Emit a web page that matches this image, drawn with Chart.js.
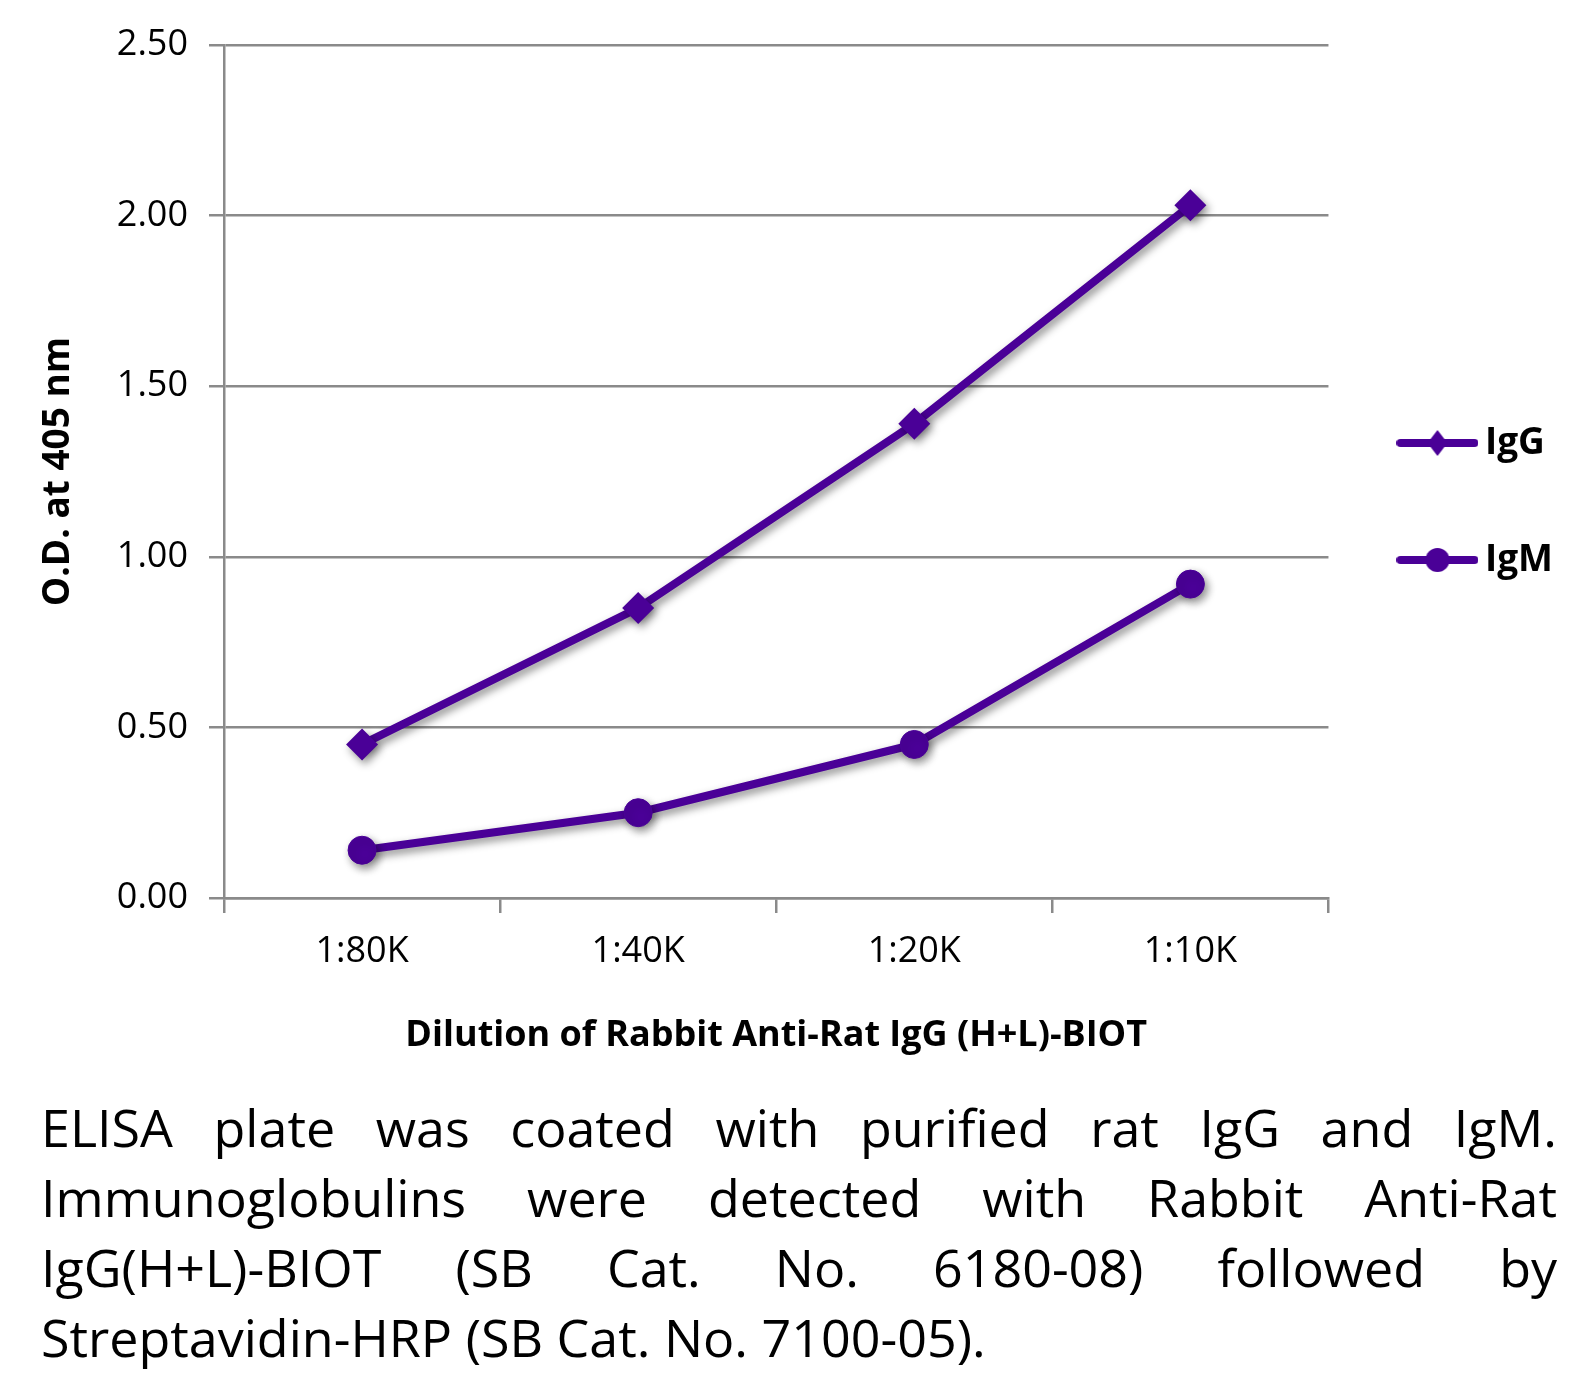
<!DOCTYPE html>
<html>
<head>
<meta charset="utf-8">
<script src="https://cdn.jsdelivr.net/npm/chart.js@4.4.1/dist/chart.umd.min.js"></script>
<style>
  html, body { margin: 0; padding: 0; background: #fff; }
  #wrap { position: relative; width: 1590px; height: 1373px; }
  #chart-box { position: absolute; left: 0; top: 0; width: 1590px; height: 1075px; }
  #caption {
    position: absolute; left: 41px; top: 1092px; width: 1516px;
    font-family: 'Open Sans', sans-serif; font-size: 52px; line-height: 70px; color: #000;
  }
  #caption div { text-align: justify; text-align-last: justify; }
  #caption div.last { text-align-last: left; }
</style>
</head>
<body>
<div id="wrap">
  <div id="chart-box"><canvas id="chart"></canvas></div>
  <div id="caption">
    <div>ELISA plate was coated with purified rat IgG and IgM.</div>
    <div>Immunoglobulins were detected with Rabbit Anti-Rat</div>
    <div>IgG(H+L)-BIOT (SB Cat. No. 6180-08) followed by</div>
    <div class="last">Streptavidin-HRP (SB Cat. No. 7100-05).</div>
  </div>
</div>
<script>
const dilutions = ['1:80K', '1:40K', '1:20K', '1:10K']
const igG = [0.45, 0.85, 1.39, 2.03]
const igM = [0.14, 0.25, 0.45, 0.92]
const yMin = 0
const yMax = 2.5
const yStep = 0.5

const purple = '#4a0097'
const gridGray = '#8a8a8a'
const font = "'Open Sans', sans-serif"

// little line+marker pictures for the legend
function legendMarker(kind) {
  const c = document.createElement('canvas')
  c.width = 82; c.height = 30
  const g = c.getContext('2d')
  g.strokeStyle = purple; g.fillStyle = purple
  g.lineWidth = 8; g.lineCap = 'round'
  g.beginPath(); g.moveTo(4, 15); g.lineTo(78, 15); g.stroke()
  g.beginPath()
  if (kind === 'diamond') {
    g.moveTo(41, 2); g.lineTo(51, 15); g.lineTo(41, 28); g.lineTo(31, 15); g.closePath()
  } else {
    g.arc(41, 15, 12, 0, Math.PI * 2)
  }
  g.fill()
  return c
}
const markers = [legendMarker('diamond'), legendMarker('circle')]

// soft drop shadow under lines and markers
const shadowPlugin = {
  id: 'shadow',
  beforeDatasetsDraw(chart) {
    const ctx = chart.ctx
    ctx.save()
    ctx.shadowColor = 'rgba(0,0,0,0.45)'
    ctx.shadowBlur = 8
    ctx.shadowOffsetX = 3
    ctx.shadowOffsetY = 4
  },
  afterDatasetsDraw(chart) {
    chart.ctx.restore()
  }
}

new Chart(document.getElementById('chart'), {
  type: 'line',
  data: {
    labels: dilutions,
    datasets: [
      {
        label: 'IgG', data: igG,
        borderColor: purple, backgroundColor: purple, borderWidth: 8,
        pointStyle: 'rectRot', pointRadius: 16, pointBorderWidth: 0,
        fill: false, tension: 0
      },
      {
        label: 'IgM', data: igM,
        borderColor: purple, backgroundColor: purple, borderWidth: 8,
        pointStyle: 'circle', pointRadius: 14, pointBorderWidth: 1,
        fill: false, tension: 0
      }
    ]
  },
  options: {
    responsive: true,
    maintainAspectRatio: false,
    animation: false,
    devicePixelRatio: 1,
    layout: { padding: { top: 45, right: 27, bottom: 0, left: 0 } },
    plugins: {
      tooltip: { enabled: false },
      legend: {
        position: 'right',
        fullSize: false,
        title: { display: true, text: ' ', font: { size: 10 }, padding: { top: 24, bottom: 24 } },
        labels: {
          usePointStyle: true,
          pointStyleWidth: 58,
          padding: 80,
          color: '#000',
          font: { family: font, size: 37, weight: 'bold' },
          generateLabels: (chart) => chart.data.datasets.map((ds, i) => ({
            text: ds.label, pointStyle: markers[i], datasetIndex: i,
            fontColor: '#000', lineWidth: 0, hidden: false
          }))
        }
      }
    },
    scales: {
      x: {
        offset: true,
        afterFit: (s) => { s.height = 177 },
        grid: { offset: true, drawOnChartArea: false, drawTicks: true, tickLength: 15, color: gridGray, lineWidth: 2.5 },
        border: { color: gridGray, width: 2.5 },
        ticks: { color: '#000', padding: 17, font: { family: font, size: 36 } },
        title: {
          display: true, text: 'Dilution of Rabbit Anti-Rat IgG (H+L)-BIOT', color: '#000',
          font: { family: font, size: 36, weight: 'bold' }, padding: { top: 0, bottom: 18 }
        }
      },
      y: {
        min: yMin, max: yMax,
        afterFit: (s) => { s.width = 224 },
        grid: { color: gridGray, lineWidth: 2.5, tickLength: 15 },
        border: { color: gridGray, width: 2.5 },
        ticks: {
          stepSize: yStep, color: '#000', padding: 21,
          font: { family: font, size: 36 },
          callback: (v) => v.toFixed(2)
        },
        title: {
          display: true, text: 'O.D. at 405 nm', color: '#000',
          font: { family: font, size: 37, weight: 'bold' }, padding: { top: 36, bottom: 0 }
        }
      }
    }
  },
  plugins: [shadowPlugin]
})
</script>
</body>
</html>
